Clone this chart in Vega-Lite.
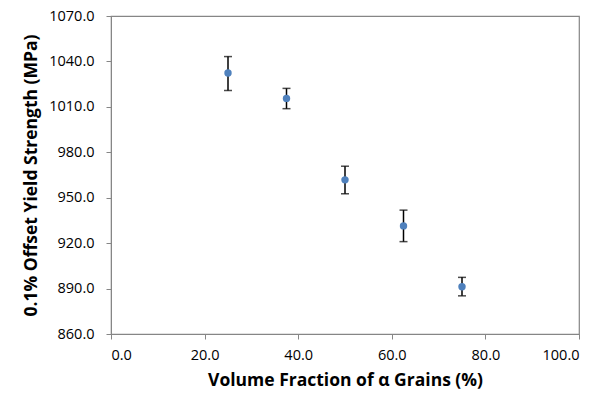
{
  "$schema": "https://vega.github.io/schema/vega-lite/v6.json",
  "width": 468,
  "height": 318,
  "autosize": {"type": "none"},
  "padding": {"left": 111, "top": 16, "right": 24, "bottom": 68},
  "background": "white",
  "config": {
    "view": {"stroke": "#868686", "strokeWidth": 1.2},
    "font": "Open Sans",
    "axis": {
      "grid": false,
      "domainColor": "#868686",
      "tickColor": "#868686",
      "tickSize": 5,
      "labelFont": "Open Sans",
      "labelFontSize": 14.5,
      "labelColor": "#000000",
      "titleFont": "Open Sans",
      "titleFontSize": 17.5,
      "titleFontWeight": "bold",
      "titleColor": "#000000"
    }
  },
  "data": {
    "values": [
      {"frac": 25.0, "ys": 1032.4, "lo": 1020.8, "hi": 1043.2},
      {"frac": 37.5, "ys": 1015.6, "lo": 1008.8, "hi": 1022.2},
      {"frac": 50.0, "ys": 961.8, "lo": 952.6, "hi": 970.8},
      {"frac": 62.5, "ys": 931.4, "lo": 921.0, "hi": 941.8},
      {"frac": 75.0, "ys": 891.2, "lo": 885.2, "hi": 897.4}
    ]
  },
  "encoding": {
    "x": {
      "field": "frac",
      "type": "quantitative",
      "scale": {"domain": [0, 100], "nice": false, "zero": false},
      "axis": {
        "values": [0, 20, 40, 60, 80, 100],
        "format": ".1f",
        "title": "Volume Fraction of α Grains (%)",
        "labelPadding": 9,
        "titlePadding": 10
      }
    }
  },
  "layer": [
    {
      "mark": {"type": "rule", "color": "#000000", "strokeWidth": 1.5},
      "encoding": {
        "y": {
          "field": "lo",
          "type": "quantitative",
          "scale": {"domain": [860, 1070], "nice": false, "zero": false},
          "axis": {
            "values": [860, 890, 920, 950, 980, 1010, 1040, 1070],
            "format": ".1f",
            "title": "0.1% Offset Yield Strength (MPa)",
            "labelPadding": 12,
            "titlePadding": 8
          }
        },
        "y2": {"field": "hi"}
      }
    },
    {
      "mark": {"type": "tick", "orient": "horizontal", "color": "#000000", "size": 8, "thickness": 1.5},
      "encoding": {"y": {"field": "lo", "type": "quantitative"}}
    },
    {
      "mark": {"type": "tick", "orient": "horizontal", "color": "#000000", "size": 8, "thickness": 1.5},
      "encoding": {"y": {"field": "hi", "type": "quantitative"}}
    },
    {
      "mark": {"type": "point", "filled": true, "color": "#4f81bd", "opacity": 1, "size": 55},
      "encoding": {"y": {"field": "ys", "type": "quantitative"}}
    }
  ]
}
